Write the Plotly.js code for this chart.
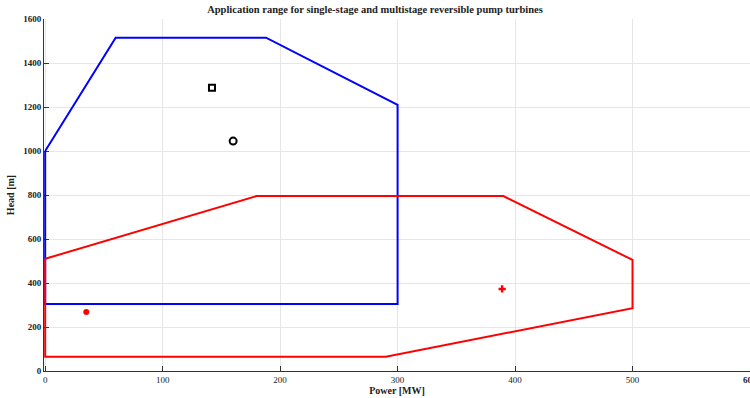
<!DOCTYPE html>
<html><head><meta charset="utf-8">
<script src="https://cdn.plot.ly/plotly-3.0.1.min.js"></script>
<style>html,body{margin:0;padding:0;background:#fff}</style>
</head><body><div id="chart" style="width:750px;height:398px"></div>
<script>
const multiPower = [0, 60, 188, 300, 300, 0, 0];
const multiHead  = [1000, 1515, 1515, 1210, 305, 305, 1000];
const singlePower = [0, 180, 390, 500, 500, 290, 0, 0];
const singleHead  = [510, 795, 795, 505, 285, 65, 65, 510];
const squarePt = {x: [142], y: [1288]};
const circlePt = {x: [160], y: [1045]};
const dotPt = {x: [35], y: [268]};
const plusPt = {x: [389], y: [373]};

const font = {family: 'Liberation Serif, Times New Roman, serif', color: '#222'};
const traces = [
  {x: multiPower, y: multiHead, mode: 'lines', line: {color: '#0000ff', width: 2}},
  {x: singlePower, y: singleHead, mode: 'lines', line: {color: '#ff0000', width: 2}},
  {x: squarePt.x, y: squarePt.y, mode: 'markers', marker: {symbol: 'square-open', size: 6, color: '#000', line: {width: 2, color: '#000'}}},
  {x: circlePt.x, y: circlePt.y, mode: 'markers', marker: {symbol: 'circle-open', size: 7, color: '#000', line: {width: 2, color: '#000'}}},
  {x: dotPt.x, y: dotPt.y, mode: 'markers', marker: {symbol: 'circle', size: 6, color: '#ff0000'}},
  {x: plusPt.x, y: plusPt.y, mode: 'markers', marker: {symbol: 'cross', size: 6, color: '#ff0000'}}
];
const layout = {
  width: 750, height: 398,
  margin: {l: 44, r: 0, t: 19, b: 27},
  showlegend: false,
  paper_bgcolor: '#fff', plot_bgcolor: '#fff',
  title: {text: '<b>Application range for single-stage and multistage reversible pump turbines</b>', font: Object.assign({size: 10.5}, font), x: 0.5, xanchor: 'center', y: 0.985, yanchor: 'top'},
  annotations: [{x: 600, y: 0, xref: 'x', yref: 'y', text: '<b>600</b>', showarrow: false, yanchor: 'top', xanchor: 'center', yshift: -2, font: Object.assign({size: 9}, font)}],
  xaxis: {
    range: [-1, 600], tickvals: [0, 100, 200, 300, 400, 500],
    title: {text: '<b>Power [MW]</b>', font: Object.assign({size: 10}, font), standoff: 3},
    tickfont: Object.assign({size: 9}, font), tickprefix: '<b>', ticksuffix: '</b>',
    ticks: 'inside', ticklen: 5, tickcolor: '#333',
    showline: true, linecolor: '#333', linewidth: 1, layer: 'below traces',
    showgrid: true, gridcolor: '#e6e6e6', zeroline: false
  },
  yaxis: {
    range: [0, 1600], dtick: 200, tick0: 0,
    title: {text: '<b>Head [m]</b>', font: Object.assign({size: 10}, font), standoff: 6},
    tickfont: Object.assign({size: 9}, font), tickprefix: '<b>', ticksuffix: '</b>',
    ticks: 'inside', ticklen: 5, tickcolor: '#333',
    showline: true, linecolor: '#333', linewidth: 1, layer: 'below traces',
    showgrid: true, gridcolor: '#e6e6e6', zeroline: false
  }
};
Plotly.newPlot('chart', traces, layout, {displayModeBar: false, staticPlot: true});
</script></body></html>
